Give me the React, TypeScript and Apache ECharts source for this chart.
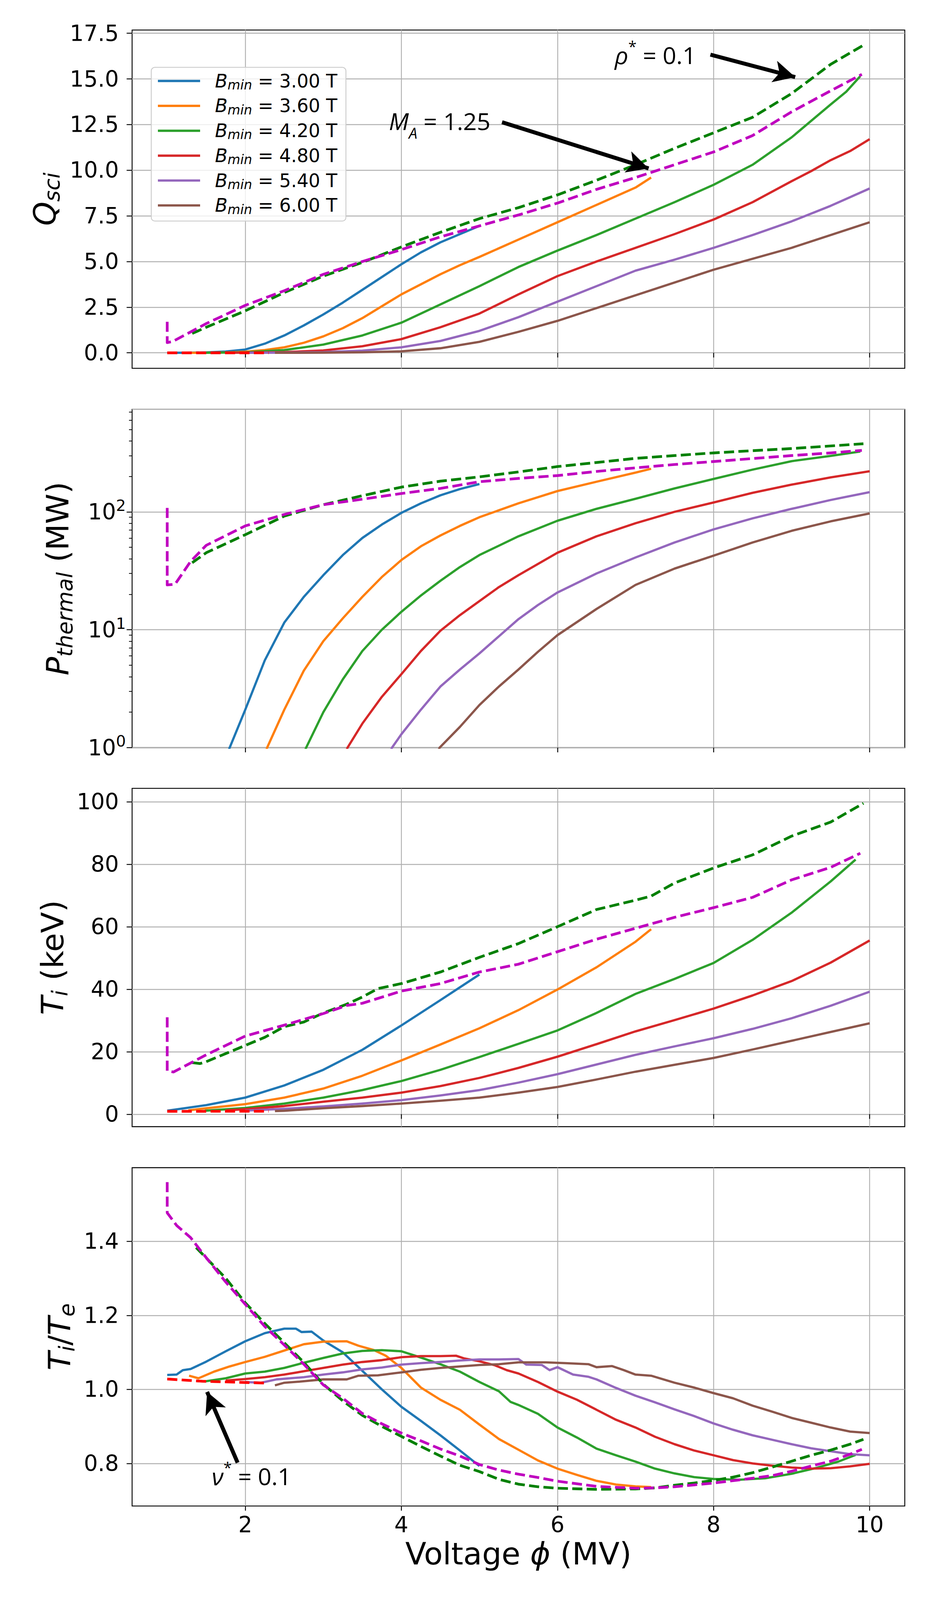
import React, { useEffect, useRef } from "react";
import * as echarts from "echarts";

// ---------------- axes / ticks ----------------
const X_MIN = 0.55;
const X_MAX = 10.45;
const X_TICKS = [2, 4, 6, 8, 10];
const Q_RANGE = [-0.85, 17.68];
const Q_TICKS = [0, 2.5, 5, 7.5, 10, 12.5, 15, 17.5];
const P_RANGE = [1, 740];
const P_MINOR = [2, 3, 4, 5, 6, 7, 8, 9, 20, 30, 40, 50, 60, 70, 80, 90, 200, 300, 400, 500, 600, 700];
const T_RANGE = [-4, 104.3];
const T_TICKS = [0, 20, 40, 60, 80, 100];
const R_RANGE = [0.685, 1.599];
const R_TICKS = [0.8, 1.0, 1.2, 1.4];

const B_LABELS = ["3.00", "3.60", "4.20", "4.80", "5.40", "6.00"];
const SOLID_COLORS = ["#1f77b4", "#ff7f0e", "#2ca02c", "#d62728", "#9467bd", "#8c564b"];

// ---------------- panel 1: Q_sci ----------------
const Q_B300 = [[1, 0], [1.25, 0.005], [1.5, 0.02], [1.75, 0.07], [2, 0.18], [2.25, 0.5], [2.5, 0.95], [2.75, 1.5], [3, 2.1], [3.25, 2.75], [3.5, 3.45], [3.75, 4.15], [4, 4.85], [4.25, 5.5], [4.5, 6.05], [4.75, 6.5], [5, 6.95]];
const Q_B360 = [[1.27, 0], [1.5, 0.005], [1.75, 0.02], [2, 0.06], [2.25, 0.15], [2.5, 0.3], [2.75, 0.55], [3, 0.9], [3.25, 1.35], [3.5, 1.9], [3.75, 2.55], [4, 3.2], [4.25, 3.75], [4.5, 4.3], [4.75, 4.8], [5, 5.25], [5.5, 6.2], [6, 7.15], [6.5, 8.1], [7, 9.05], [7.2, 9.6]];
const Q_B420 = [[1.48, 0], [2, 0.03], [2.5, 0.15], [3, 0.45], [3.5, 0.95], [4, 1.65], [4.5, 2.65], [5, 3.65], [5.5, 4.7], [6, 5.6], [6.5, 6.45], [7, 7.35], [7.5, 8.25], [8, 9.2], [8.5, 10.3], [9, 11.8], [9.25, 12.7], [9.5, 13.6], [9.7, 14.3], [9.88, 15.15]];
const Q_B480 = [[1.75, 0], [2, 0.01], [2.5, 0.04], [3, 0.13], [3.5, 0.36], [4, 0.75], [4.5, 1.4], [5, 2.15], [5.5, 3.2], [6, 4.2], [6.5, 5.0], [7, 5.75], [7.5, 6.5], [8, 7.3], [8.5, 8.25], [9, 9.4], [9.25, 9.95], [9.5, 10.55], [9.75, 11.05], [10, 11.7]];
const Q_B540 = [[2, 0], [2.5, 0.01], [3, 0.04], [3.5, 0.12], [4, 0.3], [4.5, 0.65], [5, 1.2], [5.5, 1.95], [6, 2.8], [6.5, 3.65], [7, 4.5], [7.5, 5.1], [8, 5.75], [8.5, 6.45], [9, 7.2], [9.5, 8.05], [10, 9.0]];
const Q_B600 = [[2.38, 0], [3, 0.01], [3.5, 0.03], [4, 0.08], [4.5, 0.25], [5, 0.6], [5.5, 1.15], [6, 1.75], [6.5, 2.45], [7, 3.15], [7.5, 3.85], [8, 4.55], [8.5, 5.15], [9, 5.75], [9.5, 6.45], [10, 7.15]];
const Q_RHO = [[1.32, 1.06], [1.5, 1.4], [2, 2.3], [2.5, 3.3], [3, 4.2], [3.5, 4.95], [4, 5.8], [4.5, 6.6], [5, 7.35], [5.5, 7.95], [6, 8.65], [6.5, 9.45], [7, 10.3], [7.5, 11.2], [8, 12.05], [8.5, 12.9], [9, 14.2], [9.5, 15.8], [9.92, 16.85]];
const Q_MA = [[1, 1.7], [1, 0.56], [1.07, 0.62], [1.5, 1.6], [2, 2.6], [2.5, 3.4], [3, 4.3], [3.5, 5.0], [4, 5.65], [4.5, 6.35], [5, 6.95], [5.5, 7.55], [6, 8.2], [6.5, 8.95], [7, 9.6], [7.5, 10.3], [8, 11.0], [8.5, 11.9], [9, 13.2], [9.5, 14.35], [9.9, 15.25]];
const Q_NU = [[1, 0], [2.3, 0]];

// ---------------- panel 2: P_thermal (MW) ----------------
const P_B300 = [[1.6, 0.42], [1.8, 1], [2, 2.1], [2.25, 5.5], [2.5, 11.5], [2.75, 19], [3, 29], [3.25, 43], [3.5, 60], [3.75, 78], [4, 98], [4.25, 118], [4.5, 138], [4.75, 156], [5, 172]];
const P_B360 = [[2.1, 0.4], [2.28, 1], [2.5, 2.1], [2.75, 4.5], [3, 8], [3.25, 12.5], [3.5, 19], [3.75, 28], [4, 39], [4.25, 51], [4.5, 63], [4.75, 76], [5, 90], [5.5, 118], [6, 150], [6.5, 180], [7, 215], [7.2, 232]];
const P_B420 = [[2.6, 0.5], [2.78, 1], [3, 2.0], [3.25, 3.8], [3.5, 6.6], [3.75, 10], [4, 14.2], [4.25, 19.5], [4.5, 26], [4.75, 34], [5, 43], [5.5, 62], [6, 84], [6.5, 106], [7, 129], [7.5, 158], [8, 190], [8.5, 228], [9, 269], [9.5, 298], [9.88, 325]];
const P_B480 = [[3.15, 0.5], [3.31, 1], [3.5, 1.6], [3.75, 2.7], [4, 4.2], [4.25, 6.6], [4.5, 9.8], [4.75, 13.3], [5, 17.5], [5.25, 23], [5.5, 29], [6, 45], [6.5, 62], [7, 80], [7.5, 100], [8, 120], [8.5, 145], [9, 170], [9.5, 196], [10, 221]];
const P_B540 = [[3.7, 0.5], [3.88, 1], [4, 1.3], [4.25, 2.1], [4.5, 3.3], [4.75, 4.6], [5, 6.3], [5.25, 8.8], [5.5, 12.3], [5.75, 16.2], [6, 20.7], [6.5, 30], [7, 41], [7.5, 55], [8, 71], [8.5, 88], [9, 106], [9.5, 126], [10, 147]];
const P_B600 = [[4.3, 0.5], [4.49, 1], [4.75, 1.5], [5, 2.3], [5.25, 3.3], [5.5, 4.6], [5.75, 6.5], [6, 9], [6.5, 15], [7, 24], [7.5, 33], [8, 42.5], [8.5, 55], [9, 69], [9.5, 83], [10, 97]];
const P_RHO = [[1.32, 37], [1.5, 45], [2, 64], [2.5, 92], [3, 115], [3.5, 137], [4, 162], [4.5, 182], [5, 198], [5.5, 218], [6, 242], [6.5, 262], [7, 284], [7.5, 300], [8, 316], [8.5, 330], [9, 344], [9.5, 362], [9.92, 378]];
const P_MA = [[1, 108], [1, 24], [1.1, 24.3], [1.3, 38], [1.5, 52], [2, 76], [2.5, 95], [3, 115], [3.5, 128], [4, 143], [4.5, 158], [5, 180], [5.5, 192], [6, 203], [6.5, 220], [7, 236], [7.5, 252], [8, 267], [8.5, 283], [9, 300], [9.5, 316], [9.9, 332]];

// ---------------- panel 3: T_i (keV) ----------------
const T_B300 = [[1, 1.1], [1.5, 2.9], [2, 5.3], [2.5, 9.2], [3, 14.2], [3.5, 20.6], [4, 28.4], [4.5, 36.5], [5, 44.7]];
const T_B360 = [[1.27, 1.2], [1.5, 1.9], [2, 3.2], [2.5, 5.3], [3, 8.2], [3.5, 12.3], [4, 17.2], [4.5, 22.3], [5, 27.5], [5.5, 33.3], [6, 39.9], [6.5, 47], [7, 55.2], [7.2, 59.2]];
const T_B420 = [[1.48, 1.1], [2, 2], [2.5, 3.4], [3, 5.3], [3.5, 7.7], [4, 10.6], [4.5, 14.2], [5, 18.3], [5.5, 22.5], [6, 26.8], [6.5, 32.4], [7, 38.5], [7.5, 43.3], [8, 48.4], [8.5, 55.8], [9, 64.5], [9.5, 74.5], [9.82, 81.5]];
const T_B480 = [[1.75, 1.2], [2, 1.6], [2.5, 2.6], [3, 4], [3.5, 5.3], [4, 6.9], [4.5, 9], [5, 11.6], [5.5, 14.8], [6, 18.4], [6.5, 22.4], [7, 26.5], [7.5, 30.1], [8, 33.8], [8.5, 38], [9, 42.6], [9.5, 48.5], [10, 55.6]];
const T_B540 = [[2, 1.15], [2.5, 1.7], [3, 2.5], [3.5, 3.4], [4, 4.5], [4.5, 6], [5, 7.7], [5.5, 10.1], [6, 12.8], [6.5, 15.9], [7, 19], [7.5, 21.7], [8, 24.3], [8.5, 27.3], [9, 30.7], [9.5, 34.7], [10, 39.2]];
const T_B600 = [[2.38, 1], [2.5, 1.1], [3, 1.9], [3.5, 2.6], [4, 3.4], [4.5, 4.3], [5, 5.3], [5.5, 6.9], [6, 8.7], [6.5, 11.1], [7, 13.6], [7.5, 15.8], [8, 18], [8.5, 20.7], [9, 23.5], [9.5, 26.3], [10, 29.1]];
const T_RHO = [[1.32, 16.5], [1.42, 16.2], [1.5, 16.8], [2, 22], [2.25, 24.6], [2.5, 28], [2.75, 29.5], [3, 32.4], [3.3, 35.2], [3.5, 37.5], [3.7, 40.2], [4, 41.8], [4.5, 45.5], [5, 50.2], [5.5, 54.6], [6, 60], [6.5, 65.5], [7, 68.5], [7.2, 69.8], [7.5, 74], [8, 78.8], [8.5, 83], [9, 89], [9.5, 93.5], [9.92, 99.5]];
const T_MA = [[1, 31], [1, 13.9], [1.08, 13.5], [1.5, 19], [2, 25], [2.5, 28.5], [3, 32.2], [3.3, 34.8], [3.5, 35.5], [4, 39.4], [4.5, 41.8], [5, 45.5], [5.5, 48], [6, 52], [6.5, 56], [7, 59.5], [7.5, 63], [8, 66.1], [8.5, 69.4], [9, 75], [9.5, 79], [9.88, 83.5]];
const T_NU = [[1, 0.9], [2.3, 0.95]];

// ---------------- panel 4: T_i / T_e ----------------
const R_B300 = [[1, 1.039], [1.12, 1.04], [1.2, 1.052], [1.3, 1.055], [1.5, 1.075], [1.75, 1.103], [2, 1.13], [2.25, 1.152], [2.5, 1.164], [2.65, 1.164], [2.72, 1.155], [2.85, 1.156], [3, 1.132], [3.25, 1.1], [3.5, 1.05], [3.75, 1.0], [4, 0.953], [4.25, 0.915], [4.5, 0.876], [4.75, 0.835], [5, 0.793]];
const R_B360 = [[1.28, 1.037], [1.4, 1.03], [1.6, 1.048], [1.8, 1.062], [2, 1.074], [2.25, 1.088], [2.5, 1.105], [2.75, 1.122], [3, 1.129], [3.3, 1.13], [3.45, 1.118], [3.65, 1.106], [3.8, 1.091], [4, 1.058], [4.25, 1.005], [4.5, 0.972], [4.75, 0.945], [5, 0.905], [5.25, 0.866], [5.5, 0.837], [5.75, 0.808], [6, 0.786], [6.25, 0.769], [6.5, 0.753], [6.75, 0.743], [7, 0.738], [7.2, 0.736]];
const R_B420 = [[1.49, 1.022], [1.75, 1.03], [2, 1.043], [2.25, 1.048], [2.5, 1.058], [2.75, 1.072], [3, 1.085], [3.25, 1.097], [3.5, 1.104], [3.75, 1.106], [4, 1.103], [4.25, 1.086], [4.5, 1.068], [4.75, 1.048], [5, 1.02], [5.25, 0.995], [5.4, 0.966], [5.5, 0.958], [5.75, 0.934], [6, 0.897], [6.25, 0.87], [6.5, 0.84], [6.75, 0.822], [7, 0.805], [7.25, 0.786], [7.5, 0.773], [7.75, 0.763], [8, 0.758], [8.33, 0.756], [8.66, 0.76], [9, 0.772], [9.3, 0.787], [9.6, 0.805], [9.82, 0.823]];
const R_B480 = [[1.75, 1.024], [2, 1.028], [2.25, 1.033], [2.5, 1.04], [2.75, 1.049], [3, 1.058], [3.25, 1.067], [3.5, 1.074], [3.75, 1.079], [4, 1.087], [4.25, 1.09], [4.5, 1.09], [4.7, 1.091], [4.8, 1.084], [5, 1.076], [5.2, 1.065], [5.35, 1.052], [5.5, 1.043], [5.75, 1.02], [6, 0.994], [6.25, 0.972], [6.5, 0.945], [6.75, 0.918], [7, 0.897], [7.25, 0.872], [7.5, 0.852], [7.75, 0.835], [8, 0.822], [8.25, 0.809], [8.5, 0.8], [8.75, 0.794], [9, 0.789], [9.25, 0.786], [9.5, 0.787], [9.75, 0.792], [10, 0.799]];
const R_B540 = [[2, 1.02], [2.2, 1.018], [2.4, 1.027], [2.75, 1.033], [3, 1.04], [3.25, 1.046], [3.5, 1.054], [3.75, 1.059], [4, 1.067], [4.25, 1.071], [4.5, 1.074], [4.75, 1.078], [5, 1.081], [5.25, 1.081], [5.5, 1.082], [5.6, 1.067], [5.8, 1.066], [5.9, 1.052], [6, 1.06], [6.2, 1.04], [6.4, 1.034], [6.5, 1.027], [6.75, 1.004], [7, 0.983], [7.25, 0.965], [7.5, 0.946], [7.75, 0.928], [8, 0.908], [8.25, 0.891], [8.5, 0.876], [8.75, 0.864], [9, 0.852], [9.25, 0.841], [9.5, 0.833], [9.75, 0.825], [10, 0.822]];
const R_B600 = [[2.38, 1.011], [2.5, 1.018], [2.7, 1.021], [3, 1.027], [3.3, 1.027], [3.45, 1.037], [3.7, 1.038], [4, 1.046], [4.25, 1.053], [4.5, 1.058], [4.75, 1.062], [5, 1.066], [5.25, 1.068], [5.5, 1.073], [5.85, 1.073], [6.1, 1.071], [6.4, 1.068], [6.5, 1.06], [6.7, 1.063], [6.85, 1.052], [7, 1.04], [7.2, 1.037], [7.5, 1.018], [7.75, 1.005], [8, 0.99], [8.25, 0.976], [8.5, 0.956], [8.75, 0.94], [9, 0.923], [9.25, 0.91], [9.5, 0.897], [9.75, 0.886], [10, 0.882]];
const R_RHO = [[1.37, 1.383], [1.5, 1.355], [1.75, 1.3], [2, 1.234], [2.25, 1.178], [2.5, 1.126], [2.75, 1.073], [3, 1.014], [3.25, 0.969], [3.5, 0.93], [3.75, 0.9], [4, 0.873], [4.25, 0.846], [4.5, 0.82], [4.75, 0.795], [5, 0.778], [5.25, 0.757], [5.5, 0.744], [5.75, 0.737], [6, 0.733], [6.5, 0.73], [7, 0.731], [7.25, 0.734], [7.5, 0.741], [7.75, 0.747], [8, 0.754], [8.25, 0.763], [8.5, 0.775], [8.75, 0.79], [9, 0.806], [9.25, 0.822], [9.5, 0.836], [9.75, 0.852], [9.92, 0.865]];
const R_MA = [[1, 1.56], [1, 1.477], [1.12, 1.443], [1.3, 1.41], [1.45, 1.369], [1.75, 1.29], [2, 1.23], [2.25, 1.17], [2.5, 1.12], [2.75, 1.068], [3, 1.012], [3.25, 0.976], [3.5, 0.935], [3.75, 0.907], [4, 0.882], [4.25, 0.861], [4.5, 0.839], [4.75, 0.82], [5, 0.797], [5.25, 0.782], [5.5, 0.771], [5.75, 0.762], [6, 0.752], [6.5, 0.738], [7, 0.733], [7.25, 0.734], [7.5, 0.737], [8, 0.747], [8.5, 0.76], [8.75, 0.767], [9, 0.779], [9.25, 0.793], [9.5, 0.806], [9.75, 0.825], [9.9, 0.838]];
const R_NU = [[1, 1.028], [1.45, 1.022], [2.28, 1.017]];

// ---------------- annotations (data coords) ----------------
const ANN_MA = { text: [4.49, 12.7], tail: [5.29, 12.63], tip: [7.3, 9.92] };
const ANN_RHO = { text: [7.255, 16.31], tail: [7.96, 16.33], tip: [9.18, 14.95] };
const ANN_NU = { text: [2.08, 0.766], tail: [1.902, 0.802], tip: [1.456, 1.02] };

// ---------------- layout (design units on a 2400 x 4800 page) ----------------
const PAGE_W = 2400;
const PAGE_H = 4800;
const GRID_LEFT = 338;
const GRID_W = 1977;
const GRID_H = 1015;
const GRID_TOPS = [90, 1228, 2365, 3503];
const FONT = "DejaVu Sans";
const ANN_FONT = "Open Sans";
const GRID_COLOR = "#b0b0b0";

function buildOption(sx: number, sy: number) {
  const X = (v: number) => v * sx;
  const Y = (v: number) => v * sy;
  const fs = Math.sqrt(sx * sy);
  const F = (v: number) => v * fs;
  const tickFs = F(61);
  const labelFs = F(85);
  const tickStyle = { color: "#000", width: F(2.5) };
  const headW = F(46);
  const headH = F(60);

  const arrowEnd = (tail: number[], tip: number[], range: number[]) => {
    const px = X(GRID_W) / (X_MAX - X_MIN);
    const py = Y(GRID_H) / (range[1] - range[0]);
    const dx = (tip[0] - tail[0]) * px;
    const dy = (tip[1] - tail[1]) * py;
    const len = Math.hypot(dx, dy);
    const k = (len - headH / 2) / len;
    return [tail[0] + (tip[0] - tail[0]) * k, tail[1] + (tip[1] - tail[1]) * k];
  };

  const nameRich = () => ({
    i: { fontFamily: FONT, fontStyle: "italic", fontSize: labelFs, lineHeight: labelFs, color: "#000" },
    s: { fontFamily: FONT, fontStyle: "italic", fontSize: F(60), lineHeight: F(60), color: "#000", padding: [F(40), 0, 0, 0] },
    r: { fontFamily: FONT, fontSize: labelFs, lineHeight: labelFs, color: "#000" },
  });
  const nameHalf = F(50);

  const annRich = {
    i: { fontFamily: ANN_FONT, fontStyle: "italic", fontSize: F(66), lineHeight: F(66), color: "#000" },
    s: { fontFamily: ANN_FONT, fontStyle: "italic", fontSize: F(42), lineHeight: F(42), color: "#000", padding: [F(66), 0, 0, 0] },
    p: { fontFamily: ANN_FONT, fontSize: F(42), lineHeight: F(42), color: "#000", padding: [0, 0, F(50), 0] },
    r: { fontFamily: ANN_FONT, fontSize: F(66), lineHeight: F(66), color: "#000" },
  };

  const xAxis = (i: number) => {
    const last = i === 3;
    return {
      type: "value",
      gridIndex: i,
      min: X_MIN,
      max: X_MAX,
      axisLine: { show: false },
      axisTick: { show: true, length: Y(14), lineStyle: tickStyle, customValues: X_TICKS },
      axisLabel: {
        show: last,
        customValues: X_TICKS,
        margin: Y(24),
        fontFamily: FONT,
        fontSize: tickFs,
        color: "#000",
        formatter: (v: number) => String(v),
      },
      splitLine: { show: true, lineStyle: { color: GRID_COLOR, width: F(2.5) } },
      name: last ? "Voltage {i|ϕ} (MV)" : "",
      nameLocation: "middle",
      nameGap: Y(144) - labelFs / 2,
      nameTextStyle: {
        fontFamily: FONT,
        fontSize: labelFs,
        lineHeight: labelFs,
        color: "#000",
        rich: { i: { fontFamily: FONT, fontStyle: "italic", fontSize: labelFs, lineHeight: labelFs, color: "#000" } },
      },
    };
  };

  const yLinear = (i: number, range: number[], ticks: number[], dec: number, name: string, center: number) => ({
    type: "value",
    gridIndex: i,
    min: range[0],
    max: range[1],
    axisLine: { show: false },
    axisTick: { show: true, length: X(14), lineStyle: tickStyle, customValues: ticks },
    axisLabel: {
      customValues: ticks,
      margin: X(34),
      fontFamily: FONT,
      fontSize: tickFs,
      color: "#000",
      formatter: (v: number) => v.toFixed(dec),
    },
    splitLine: { show: true, lineStyle: { color: GRID_COLOR, width: F(2.5) } },
    name,
    nameLocation: "middle",
    nameGap: X(GRID_LEFT - center) - nameHalf,
    nameTextStyle: { fontFamily: FONT, fontSize: labelFs, color: "#000", rich: nameRich() },
  });

  const lineSeries = (name: string, data: number[][], panel: number, yIndex: number, color: string, dashed: boolean, z: number) => ({
    type: "line",
    name,
    data,
    xAxisIndex: panel,
    yAxisIndex: yIndex,
    showSymbol: false,
    symbol: "none",
    smooth: false,
    clip: true,
    z,
    color,
    itemStyle: { color },
    lineStyle: { color, width: F(dashed ? 7.5 : 6.3), type: dashed ? [F(28), F(12)] : "solid", cap: "butt", join: "round" },
    emphasis: { disabled: true },
    silent: true,
    animation: false,
  });

  const annSeries = (panel: number, yIndex: number, ann: any, range: number[], label: string) => ({
    type: "line",
    name: "ann" + panel,
    data: [],
    xAxisIndex: panel,
    yAxisIndex: yIndex,
    showSymbol: false,
    symbol: "none",
    silent: true,
    z: 10,
    animation: false,
    markLine: {
      silent: true,
      animation: false,
      symbol: ["none", "arrow"],
      label: { show: false },
      emphasis: { disabled: true },
      lineStyle: { color: "#000", width: F(11), type: "solid", opacity: 1 },
      data: [[{ coord: ann.tail, symbol: "none" }, { coord: arrowEnd(ann.tail, ann.tip, range), symbol: "arrow", symbolSize: [headW, headH] }]],
    },
    markPoint: {
      silent: true,
      animation: false,
      symbol: "circle",
      symbolSize: 1,
      itemStyle: { color: "rgba(0,0,0,0)" },
      label: { show: true, position: "inside", formatter: label, rich: annRich },
      data: [{ coord: ann.text }],
    },
  });

  const LEGEND_NAMES = B_LABELS.map((b) => `Bmin = ${b} T`);
  const series: any[] = [];
  const panels = [
    { solids: [Q_B300, Q_B360, Q_B420, Q_B480, Q_B540, Q_B600], rho: Q_RHO, ma: Q_MA, nu: Q_NU, y: 0 },
    { solids: [P_B300, P_B360, P_B420, P_B480, P_B540, P_B600], rho: P_RHO, ma: P_MA, nu: null, y: 1 },
    { solids: [T_B300, T_B360, T_B420, T_B480, T_B540, T_B600], rho: T_RHO, ma: T_MA, nu: T_NU, y: 3 },
    { solids: [R_B300, R_B360, R_B420, R_B480, R_B540, R_B600], rho: R_RHO, ma: R_MA, nu: R_NU, y: 4 },
  ];
  panels.forEach((p, i) => {
    p.solids.forEach((d, k) => series.push(lineSeries(LEGEND_NAMES[k], d, i, p.y, SOLID_COLORS[k], false, 2)));
    series.push(lineSeries("rho*=0.1", p.rho, i, p.y, "#008000", true, 3));
    series.push(lineSeries("M_A=1.25", p.ma, i, p.y, "#bf00bf", true, 4));
    if (p.nu) series.push(lineSeries("nu*=0.1", p.nu, i, p.y, "#ff0000", true, 5));
  });
  series.push(annSeries(0, 0, ANN_MA, Q_RANGE, "{i|M}{s|A}{r| = 1.25}"));
  series.push(annSeries(0, 0, ANN_RHO, Q_RANGE, "{i|ρ}{p|*}{r| = 0.1}"));
  series.push(annSeries(3, 4, ANN_NU, R_RANGE, "{i|ν}{p|*}{r| = 0.1}"));

  const grids = GRID_TOPS.map((top) => ({
    left: X(GRID_LEFT),
    top: Y(top),
    width: X(GRID_W),
    height: Y(GRID_H),
    show: true,
    borderColor: "#000",
    borderWidth: F(2.5),
    backgroundColor: "rgba(0,0,0,0)",
    containLabel: false,
    outerBoundsMode: "none",
  }));

  const yAxes: any[] = [
    yLinear(0, Q_RANGE, Q_TICKS, 1, "{i|Q}{s|sci}", 108),
    {
      type: "log",
      logBase: 10,
      gridIndex: 1,
      min: P_RANGE[0],
      max: P_RANGE[1],
      axisLine: { show: false },
      axisTick: { show: true, length: X(14), lineStyle: tickStyle },
      axisLabel: {
        margin: X(16),
        showMaxLabel: false,
        formatter: (v: number) => `{n|10}{s|${Math.round(Math.log10(v))}}`,
        rich: {
          n: { fontFamily: FONT, fontSize: tickFs, lineHeight: tickFs, color: "#000" },
          s: { fontFamily: FONT, fontSize: F(43), lineHeight: F(43), color: "#000", padding: [0, 0, F(36), 0] },
        },
      },
      splitLine: { show: true, lineStyle: { color: GRID_COLOR, width: F(2.5) } },
      minorTick: { show: false },
      name: "{i|P}{s|thermal}{r| (MW)}",
      nameLocation: "middle",
      nameGap: X(GRID_LEFT - 141) - nameHalf,
      nameTextStyle: { fontFamily: FONT, fontSize: labelFs, color: "#000", rich: nameRich() },
    },
    {
      type: "value",
      gridIndex: 1,
      position: "left",
      offset: 0,
      min: Math.log10(P_RANGE[0]),
      max: Math.log10(P_RANGE[1]),
      axisLine: { show: false },
      axisLabel: { show: false },
      splitLine: { show: false },
      axisTick: { show: true, length: X(8), lineStyle: { color: "#000", width: F(2) }, customValues: P_MINOR.map((v) => Math.log10(v)) },
    },
    yLinear(2, T_RANGE, T_TICKS, 0, "{i|T}{s|i}{r| (keV)}", 128),
    yLinear(3, R_RANGE, R_TICKS, 1, "{i|T}{s|i}{r|/}{i|T}{s|e}", 146),
  ];

  const legendFs = F(51);
  const subBox = F(36) + F(22);
  return {
    animation: false,
    backgroundColor: "#ffffff",
    textStyle: { fontFamily: FONT },
    grid: grids,
    xAxis: [0, 1, 2, 3].map(xAxis),
    yAxis: yAxes,
    legend: {
      data: LEGEND_NAMES,
      orient: "vertical",
      left: X(387),
      top: Y(202),
      icon: "rect",
      itemWidth: X(108),
      itemHeight: F(6.3),
      itemGap: Y(75) - subBox,
      padding: [Y(41) - subBox / 2, X(22), Y(47) - subBox / 2, X(17)],
      backgroundColor: "rgba(255,255,255,0.8)",
      borderColor: "#cccccc",
      borderWidth: F(2.5),
      borderRadius: F(10),
      selectedMode: false,
      formatter: (name: string) => `{i|B}{s|min}{r|${name.slice(4)}}`,
      textStyle: {
        fontFamily: FONT,
        fontSize: legendFs,
        color: "#000",
        rich: {
          i: { fontFamily: FONT, fontStyle: "italic", fontSize: legendFs, lineHeight: legendFs, color: "#000", padding: [0, 0, 0, X(33)] },
          s: { fontFamily: FONT, fontStyle: "italic", fontSize: F(36), lineHeight: F(36), color: "#000", padding: [F(22), 0, 0, 0] },
          r: { fontFamily: FONT, fontSize: legendFs, lineHeight: legendFs, color: "#000" },
        },
      },
    },
    series,
  };
}

function pageSize() {
  const w = typeof window !== "undefined" && window.innerWidth ? Math.min(PAGE_W, window.innerWidth) : PAGE_W;
  const h = typeof window !== "undefined" && window.innerHeight ? Math.min(PAGE_H, window.innerHeight) : PAGE_H;
  return [w, h];
}

export default function App() {
  const ref = useRef<HTMLDivElement>(null);
  const [w, h] = pageSize();
  useEffect(() => {
    document.body.style.margin = "0";
    document.body.style.overflow = "hidden";
    if (!ref.current) return;
    const chart = echarts.init(ref.current, null, { renderer: "svg" });
    chart.setOption(buildOption(w / PAGE_W, h / PAGE_H) as any);
    return () => chart.dispose();
  }, [w, h]);
  return <div ref={ref} style={{ width: w, height: h, background: "#fff" }} />;
}
